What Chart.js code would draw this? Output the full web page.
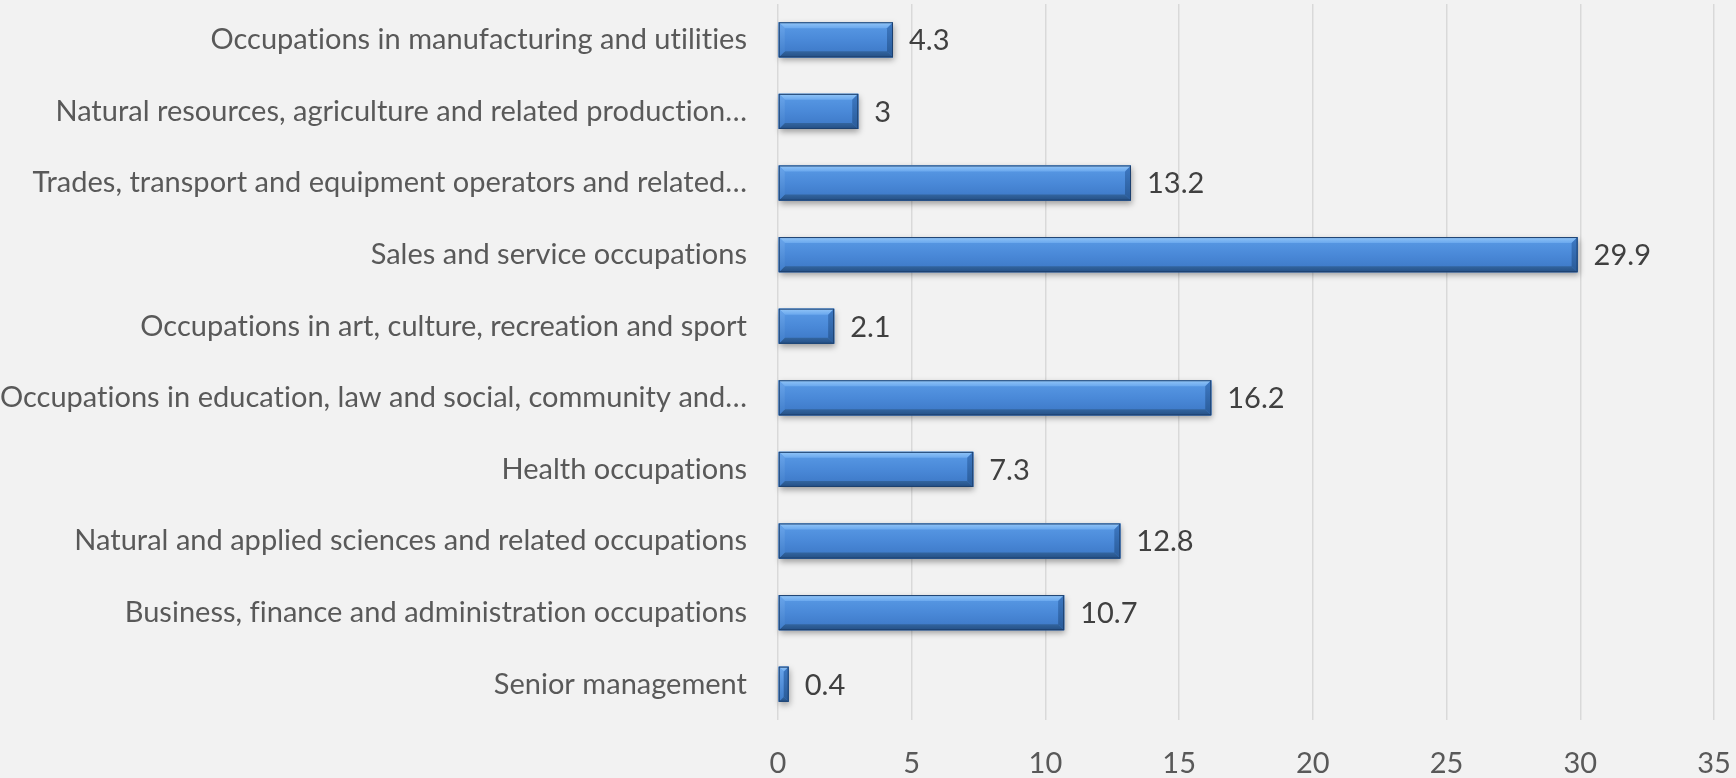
<!DOCTYPE html>
<html><head><meta charset="utf-8">
<script src="https://cdn.jsdelivr.net/npm/chart.js@4.4.1/dist/chart.umd.min.js"></script>
<style>html,body{margin:0;padding:0;background:#f2f2f2;}#wrap{width:1736px;height:778px;}</style>
</head><body><div id="wrap"><canvas id="c" width="1736" height="778"></canvas></div>
<script>
// ---- data ----
const categories = [
  'Occupations in manufacturing and utilities',
  'Natural resources, agriculture and related production\u2026',
  'Trades, transport and equipment operators and related\u2026',
  'Sales and service occupations',
  'Occupations in art, culture, recreation and sport',
  'Occupations in education, law and social, community and\u2026',
  'Health occupations',
  'Natural and applied sciences and related occupations',
  'Business, finance and administration occupations',
  'Senior management'
];
const values = [4.3, 3, 13.2, 29.9, 2.1, 16.2, 7.3, 12.8, 10.7, 0.4];
const xTickMin = 0, xTickMax = 35, xTickStep = 5;

// ---- styling ----
const FONT = 'Lato';
const FSIZE = 29;

function poly(ctx, pts, fill){
  ctx.beginPath(); ctx.moveTo(pts[0][0], pts[0][1]);
  for (let i = 1; i < pts.length; i++) ctx.lineTo(pts[i][0], pts[i][1]);
  ctx.closePath(); ctx.fillStyle = fill; ctx.fill();
}

const noLigatures = {
  id: 'noLigatures',
  beforeDraw(chart){ try { chart.ctx.letterSpacing = '0.01px'; } catch(e) {} }
};

const bevelBars = {
  id: 'bevelBars',
  afterDatasetsDraw(chart){
    const ctx = chart.ctx;
    const meta = chart.getDatasetMeta(0);
    meta.data.forEach((el) => {
      const p = el.getProps(['x','y','base','height'], true);
      const L = Math.min(p.base, p.x), R = Math.max(p.base, p.x);
      const T = p.y - p.height/2, B = p.y + p.height/2;
      const w = R - L, h = B - T;
      ctx.save();
      ctx.shadowColor = 'rgba(0,0,0,0.35)';
      ctx.shadowBlur = 6; ctx.shadowOffsetX = 1; ctx.shadowOffsetY = 3;
      ctx.fillStyle = '#3f7bcb';
      ctx.fillRect(L, T, w, h);
      ctx.restore();
      ctx.save();
      const g = ctx.createLinearGradient(0, T, 0, B);
      g.addColorStop(0, '#5a9be6'); g.addColorStop(0.5, '#4a89d8'); g.addColorStop(1, '#3b76c4');
      ctx.fillStyle = g; ctx.fillRect(L, T, w, h);
      const b = Math.min(6, w/2, h/2);
      const gt = ctx.createLinearGradient(0, T, 0, T + b);
      gt.addColorStop(0, '#93c6f7'); gt.addColorStop(1, '#6aa8ee');
      poly(ctx, [[L,T],[R,T],[R-b,T+b],[L+b,T+b]], gt);
      const gb = ctx.createLinearGradient(0, B - b, 0, B);
      gb.addColorStop(0, '#33659f'); gb.addColorStop(1, '#244f85');
      poly(ctx, [[L,B],[R,B],[R-b,B-b],[L+b,B-b]], gb);
      const gl = ctx.createLinearGradient(0, T, 0, B);
      gl.addColorStop(0, '#6aa6ec'); gl.addColorStop(1, '#3f7cc9');
      poly(ctx, [[L,T],[L+b,T+b],[L+b,B-b],[L,B]], gl);
      const gr = ctx.createLinearGradient(0, T, 0, B);
      gr.addColorStop(0, '#3d79c4'); gr.addColorStop(1, '#2a5b98');
      poly(ctx, [[R,T],[R-b,T+b],[R-b,B-b],[R,B]], gr);
      ctx.strokeStyle = '#1d416f'; ctx.lineWidth = 1;
      ctx.strokeRect(L + 0.5, T + 0.5, w - 1, h - 1);
      ctx.restore();
    });
  }
};

const valueLabels = {
  id: 'valueLabels',
  afterDatasetsDraw(chart){
    const ctx = chart.ctx;
    const meta = chart.getDatasetMeta(0);
    const ds = chart.data.datasets[0];
    ctx.save();
    ctx.font = FSIZE + 'px "' + FONT + '"';
    ctx.fillStyle = '#404040';
    ctx.textAlign = 'left'; ctx.textBaseline = 'middle';
    meta.data.forEach((el, i) => {
      const p = el.getProps(['x','y','base'], true);
      ctx.fillText(String(ds.data[i]), Math.max(p.x, p.base) + 16, p.y + 1);
    });
    ctx.restore();
  }
};

new Chart(document.getElementById('c'), {
  type: 'bar',
  data: {
    labels: categories,
    datasets: [{
      data: values,
      backgroundColor: '#4a88d8',
      borderColor: '#1d416f',
      borderWidth: 0,
      barPercentage: 0.49,
      categoryPercentage: 1.0
    }]
  },
  options: {
    indexAxis: 'y',
    responsive: false,
    animation: false,
    devicePixelRatio: 1,
    layout: { padding: { top: 4, right: 22, left: 0, bottom: 0 } },
    plugins: { legend: { display: false }, tooltip: { enabled: false } },
    scales: {
      x: {
        min: xTickMin, max: xTickMax,
        ticks: { stepSize: xTickStep, color: '#595959', font: { family: FONT, size: FSIZE }, padding: 26, maxRotation: 0 },
        grid: { color: '#d9d9d9', lineWidth: 1.5, drawTicks: false },
        border: { display: false },
        afterFit(scale){ scale.height = 58; scale.paddingLeft = 0; scale.paddingRight = 0; scale.paddingTop = 0; scale.paddingBottom = 0; }
      },
      y: {
        ticks: { color: '#595959', font: { family: FONT, size: FSIZE }, padding: 31, autoSkip: false },
        grid: { display: false, drawTicks: false },
        border: { display: false },
        afterFit(scale){ scale.width = 778; scale.paddingLeft = 0; scale.paddingRight = 0; scale.paddingTop = 0; scale.paddingBottom = 0; }
      }
    }
  },
  plugins: [noLigatures, bevelBars, valueLabels]
});
</script></body></html>
